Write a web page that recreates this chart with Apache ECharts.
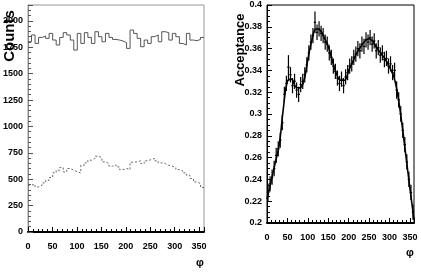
<!DOCTYPE html>
<html><head><meta charset="utf-8">
<script src="https://cdn.jsdelivr.net/npm/echarts@6/dist/echarts.min.js"></script>
<style>html,body{margin:0;padding:0;background:#fff}#c{width:421px;height:276px}</style>
</head><body><div id="c"></div>
<script>
// Left panel: two histograms (counts vs phi), 50 bins over 0..360
const upperCounts = [1802,1866,1786,1843,1856,1834,1881,1818,1771,1843,1888,1866,1818,1723,1881,1786,1888,1843,1786,1897,1850,1802,1881,1843,1824,1818,1809,1793,1739,1913,1881,1834,1755,1818,1786,1850,1866,1802,1897,1888,1818,1881,1850,1786,1771,1881,1818,1812,1824,1843];
const lowerCounts = [443,452,427,443,465,490,516,560,585,610,569,601,585,569,560,632,655,680,696,718,705,664,648,623,636,617,591,601,591,661,664,674,648,674,686,696,674,655,648,632,623,610,591,579,560,538,506,474,459,421];
const leftYTicks = [0,250,500,750,1000,1250,1500,1750,2000];
const xTicks = [0,50,100,150,200,250,300,350];
// Right panel: acceptance points (phi centers), values, errors, and fit curve
const accPhi = [2.5,7.5,12.5,17.5,22.5,27.5,32.5,37.5,42.5,47.5,52.5,57.5,62.5,67.5,72.5,77.5,82.5,87.5,92.5,97.5,102.5,107.5,112.5,117.5,122.5,127.5,132.5,137.5,142.5,147.5,152.5,157.5,162.5,167.5,172.5,177.5,182.5,187.5,192.5,197.5,202.5,207.5,212.5,217.5,222.5,227.5,232.5,237.5,242.5,247.5,252.5,257.5,262.5,267.5,272.5,277.5,282.5,287.5,292.5,297.5,302.5,307.5,312.5,317.5,322.5,327.5,332.5,337.5,342.5,347.5,352.5,357.5];
const accVal = [0.228,0.236,0.242,0.250,0.262,0.268,0.276,0.292,0.318,0.328,0.343,0.336,0.326,0.330,0.322,0.318,0.327,0.330,0.336,0.345,0.356,0.366,0.372,0.384,0.375,0.378,0.374,0.372,0.366,0.364,0.356,0.352,0.344,0.339,0.333,0.328,0.332,0.326,0.334,0.338,0.344,0.346,0.352,0.355,0.360,0.358,0.364,0.362,0.368,0.366,0.370,0.364,0.367,0.358,0.361,0.354,0.356,0.350,0.351,0.344,0.346,0.338,0.340,0.322,0.313,0.300,0.285,0.272,0.256,0.240,0.228,0.210];
const accErr = [0.008,0.007,0.007,0.007,0.007,0.007,0.007,0.007,0.007,0.007,0.011,0.007,0.007,0.007,0.007,0.007,0.007,0.007,0.007,0.007,0.007,0.007,0.007,0.010,0.007,0.007,0.007,0.007,0.007,0.007,0.007,0.007,0.007,0.007,0.007,0.007,0.007,0.007,0.007,0.007,0.007,0.007,0.007,0.007,0.007,0.007,0.007,0.007,0.007,0.007,0.007,0.007,0.007,0.007,0.007,0.007,0.007,0.007,0.007,0.007,0.007,0.007,0.007,0.008,0.007,0.007,0.007,0.007,0.007,0.007,0.007,0.007];
const fitPhi = [0,10,20,30,40,50,60,70,80,90,100,110,120,130,140,150,160,170,180,190,200,210,220,230,240,250,260,270,280,290,300,310,320,330,340,350,360];
const fitVal = [0.222,0.238,0.255,0.272,0.305,0.330,0.332,0.325,0.324,0.330,0.350,0.368,0.378,0.377,0.370,0.362,0.349,0.337,0.331,0.331,0.340,0.348,0.356,0.362,0.367,0.369,0.366,0.360,0.355,0.350,0.343,0.335,0.318,0.292,0.262,0.232,0.203];
const rightYTicks = [0.2,0.22,0.24,0.26,0.28,0.3,0.32,0.34,0.36,0.38,0.4];

function histPoints(vals, lo, hi){
  const n = vals.length, w = (hi-lo)/n, pts = [];
  for (let i=0;i<n;i++) pts.push([lo+i*w, vals[i]]);
  pts.push([hi, vals[n-1]]);
  return pts;
}
const FONT = '"Liberation Sans",Arial,sans-serif';
const lbl = {fontFamily:FONT,fontWeight:'bold',fontSize:9,color:'#000'};

const chart = echarts.init(document.getElementById('c'), null, {renderer:'canvas'});
chart.setOption({
  animation:false,
  backgroundColor:'#fff',
  grid:[
    {left:27, top:5, width:177, height:227, show:true, borderColor:'#999', borderWidth:1},
    {left:267, top:5, width:147, height:218, show:true, borderColor:'#000', borderWidth:1}
  ],
  xAxis:[
    {gridIndex:0, type:'value', min:0, max:360, interval:50,
     axisLine:{lineStyle:{color:'#000',width:2}},
     axisTick:{inside:true,length:5,lineStyle:{color:'#000'}},
     minorTick:{show:true,splitNumber:5,length:3,lineStyle:{color:'#000'}},
     splitLine:{show:false},
     axisLabel:Object.assign({margin:10,showMaxLabel:false,
       formatter:v=>xTicks.indexOf(v)>=0?String(v):''},lbl)},
    {gridIndex:1, type:'value', min:0, max:360, interval:50,
     axisLine:{lineStyle:{color:'#000',width:2}},
     axisTick:{inside:true,length:5,lineStyle:{color:'#000'}},
     minorTick:{show:true,splitNumber:5,length:3,lineStyle:{color:'#000'}},
     splitLine:{show:false},
     axisLabel:Object.assign({margin:10,showMaxLabel:false,
       formatter:v=>xTicks.indexOf(v)>=0?String(v):''},lbl)}
  ],
  yAxis:[
    {gridIndex:0, type:'value', min:0, max:2150, interval:250,
     axisLine:{lineStyle:{color:'#888',width:1}},
     axisTick:{inside:true,length:5,lineStyle:{color:'#555'}},
     minorTick:{show:true,splitNumber:5,length:3,lineStyle:{color:'#555'}},
     splitLine:{show:false},
     axisLabel:Object.assign({margin:5,showMaxLabel:false,
       formatter:v=>leftYTicks.indexOf(v)>=0?String(v):''},lbl)},
    {gridIndex:1, type:'value', min:0.2, max:0.4, interval:0.02,
     axisLine:{lineStyle:{color:'#000',width:1}},
     axisTick:{inside:true,length:5,lineStyle:{color:'#000'}},
     minorTick:{show:true,splitNumber:4,length:3,lineStyle:{color:'#000'}},
     splitLine:{show:false},
     axisLabel:Object.assign({margin:5,
       formatter:v=>{const r=Math.round(v*100)/100; return rightYTicks.some(t=>Math.abs(t-r)<1e-9)?String(r):'';}},lbl)}
  ],
  series:[
    {type:'line', xAxisIndex:0, yAxisIndex:0, step:'end', showSymbol:false, symbol:'none',
     data:histPoints(upperCounts,0,360), lineStyle:{color:'#555',width:1}},
    {type:'line', xAxisIndex:0, yAxisIndex:0, step:'end', showSymbol:false, symbol:'none',
     data:histPoints(lowerCounts,0,360), lineStyle:{color:'#666',width:1,type:[2,2]}},
    {type:'custom', xAxisIndex:1, yAxisIndex:1,
     data:accPhi.map((p,i)=>[p,accVal[i],accErr[i]]),
     renderItem:(params,api)=>{
       const x=api.value(0), v=api.value(1), e=api.value(2);
       const a=api.coord([x,v-e]), b=api.coord([x,v+e]), c=api.coord([x,v]);
       return {type:'group',children:[
         {type:'line',shape:{x1:a[0],y1:a[1],x2:b[0],y2:b[1]},style:{stroke:'#000',lineWidth:1.2}},
         {type:'line',shape:{x1:c[0]-1.2,y1:c[1],x2:c[0]+1.2,y2:c[1]},style:{stroke:'#000',lineWidth:1.2}}
       ]};
     }},
    {type:'line', xAxisIndex:1, yAxisIndex:1, smooth:0.4, showSymbol:false, symbol:'none',
     data:fitPhi.map((p,i)=>[p,fitVal[i]]), lineStyle:{color:'#000',width:1.6}}
  ],
  graphic:[
    {type:'text', x:2, y:36, rotation:Math.PI/2, style:{text:'Counts', font:'bold 15px '+FONT, fill:'#000', textAlign:'center', textVerticalAlign:'top'}},
    {type:'text', x:234, y:50, rotation:Math.PI/2, style:{text:'Acceptance', font:'bold 13px '+FONT, fill:'#000', textAlign:'center', textVerticalAlign:'top'}},
    {type:'text', x:200, y:263, style:{text:'φ', font:'bold 11px '+FONT, fill:'#000', textAlign:'center', textVerticalAlign:'middle'}},
    {type:'text', x:410, y:253, style:{text:'φ', font:'bold 11px '+FONT, fill:'#000', textAlign:'center', textVerticalAlign:'middle'}}
  ]
});
</script></body></html>
